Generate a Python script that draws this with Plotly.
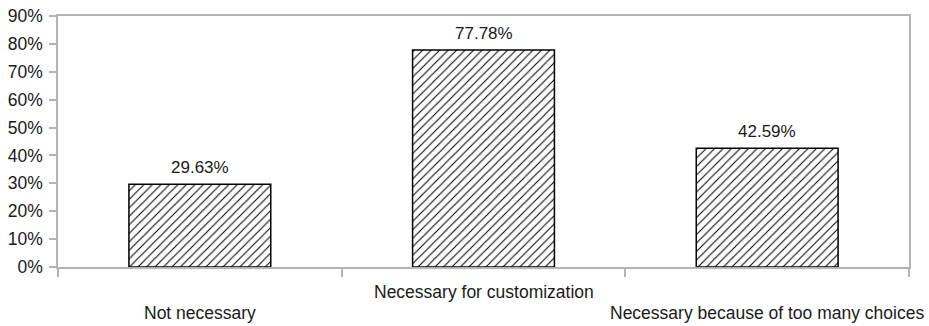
import plotly.graph_objects as go

categories = ["Not necessary", "Necessary for customization", "Necessary because of too many choices"]
values = [29.63, 77.78, 42.59]
label_offsets = [-46, -25, -46]  # staggered category labels (px below axis)
y_ticks = [0, 10, 20, 30, 40, 50, 60, 70, 80, 90]

FONT = "Liberation Sans, Arial, sans-serif"
TEXT = "#1a1a1a"
FRAME = "#b4b4b4"

fig = go.Figure()
fig.add_trace(go.Bar(
    x=categories,
    y=[v / 100 for v in values],
    width=0.5,
    marker=dict(
        color="white",
        line=dict(color="black", width=1.5),
        pattern=dict(shape="/", fgcolor="black", bgcolor="white", size=6, solidity=0.17),
    ),
))

# value labels above each bar
for cat, v in zip(categories, values):
    fig.add_annotation(
        x=cat, xref="x", y=v / 100, yref="y", yshift=5,
        text=f"{v:.2f}%", showarrow=False, yanchor="bottom", xanchor="center",
        font=dict(family=FONT, size=17, color=TEXT),
    )

# staggered category labels under the axis
for cat, off in zip(categories, label_offsets):
    fig.add_annotation(
        x=cat, xref="x", y=0, yref="paper", yshift=off,
        text=cat, showarrow=False, yanchor="middle", xanchor="center",
        font=dict(family=FONT, size=17.5, color=TEXT),
    )

fig.update_layout(
    template="none",
    width=929, height=326,
    margin=dict(l=58, r=20, t=16, b=59, autoexpand=False),
    paper_bgcolor="white", plot_bgcolor="white",
    showlegend=False,
    font=dict(family=FONT, size=17, color=TEXT),
)
fig.update_xaxes(
    type="category",
    range=[-0.5, 2.5],
    showticklabels=False,
    tickson="boundaries",
    ticks="outside", ticklen=8, tickcolor=FRAME, tickwidth=1.5,
    showline=True, linecolor=FRAME, linewidth=1.5, mirror=True,
    showgrid=False, zeroline=False, automargin=False,
)
fig.update_yaxes(
    range=[0, 0.9],
    tickvals=[t / 100 for t in y_ticks],
    ticktext=[f"{t}%" for t in y_ticks],
    ticks="outside", ticklen=7, tickcolor=FRAME, tickwidth=1.5,
    tickfont=dict(family=FONT, size=17.5, color=TEXT),
    ticklabelstandoff=3,
    showline=True, linecolor=FRAME, linewidth=1.5, mirror=True,
    showgrid=False, zeroline=False, automargin=False,
)

fig.write_html("out.html")
